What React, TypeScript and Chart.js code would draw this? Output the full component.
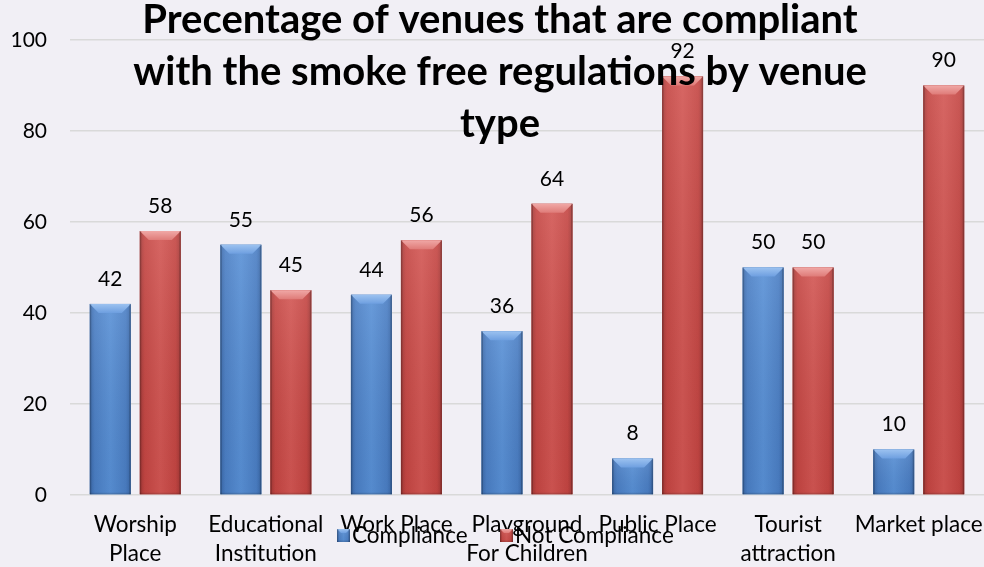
import React, { useEffect, useRef } from 'react';
import { Chart, registerables } from 'chart.js';

Chart.register(...registerables);

const categories: (string | string[])[] = [
  ['Worship', 'Place'],
  ['Educational', 'Institution'],
  'Work Place',
  ['Playground', 'For Children'],
  'Public Place',
  ['Tourist', 'attraction'],
  'Market place',
];
const compliance = [42, 55, 44, 36, 8, 50, 10];
const notCompliance = [58, 45, 56, 64, 92, 50, 90];
const seriesNames = ['Compliance', 'Not Compliance'];
const yMin = 0;
const yMax = 100;
const yStep = 20;
const titleLines = [
  'Precentage of venues that are compliant',
  'with the smoke free regulations by venue',
  'type',
];

const BG = '#F1EFF5';
const FONT = 'Lato, "Open Sans", sans-serif';

const palettes = [
  { base: '#4F81BD', edge: '#3A68A8', mid: '#4A7EC4', center: '#5890D6', bevelTop: '#9CC2F0', bevel: '#6E9FE0' },
  { base: '#C0504D', edge: '#A23836', mid: '#C44542', center: '#D25552', bevelTop: '#F0A8A6', bevel: '#DF7B78' },
];

function drawBevelBar(ctx: CanvasRenderingContext2D, left: number, top: number, right: number, bottom: number, p: any, bevelSize: number) {
  const w = right - left;
  const h = bottom - top;
  if (h <= 0 || w <= 0) return;
  const g = ctx.createLinearGradient(left, 0, right, 0);
  g.addColorStop(0, p.edge);
  g.addColorStop(0.12, p.mid);
  g.addColorStop(0.5, p.center);
  g.addColorStop(0.88, p.mid);
  g.addColorStop(1, p.edge);
  ctx.fillStyle = g;
  ctx.fillRect(left, top, w, h);
  const v = ctx.createLinearGradient(0, top, 0, bottom);
  v.addColorStop(0, 'rgba(255,255,255,0.10)');
  v.addColorStop(1, 'rgba(0,0,0,0.04)');
  ctx.fillStyle = v;
  ctx.fillRect(left, top, w, h);
  const b = Math.min(bevelSize, h / 2, w / 2);
  const tg = ctx.createLinearGradient(0, top, 0, top + b);
  tg.addColorStop(0, p.bevelTop);
  tg.addColorStop(1, p.bevel);
  ctx.beginPath();
  ctx.moveTo(left, top);
  ctx.lineTo(right, top);
  ctx.lineTo(right - b, top + b);
  ctx.lineTo(left + b, top + b);
  ctx.closePath();
  ctx.fillStyle = tg;
  ctx.fill();
  ctx.fillStyle = 'rgba(0,0,0,0.18)';
  ctx.fillRect(left, top, 1.5, h);
  ctx.fillRect(right - 1.5, top, 1.5, h);
  ctx.fillStyle = 'rgba(0,0,0,0.12)';
  ctx.fillRect(left, bottom - 1.5, w, 1.5);
}

const bgPlugin = {
  id: 'bg',
  beforeDraw(chart: any) {
    const ctx = chart.ctx;
    ctx.save();
    ctx.fillStyle = BG;
    ctx.fillRect(0, 0, chart.width, chart.height);
    ctx.restore();
  },
};

const barStylePlugin = {
  id: 'barStyle',
  afterDatasetsDraw(chart: any) {
    const ctx = chart.ctx;
    ctx.save();
    chart.data.datasets.forEach((ds: any, di: number) => {
      const meta = chart.getDatasetMeta(di);
      meta.data.forEach((el: any, i: number) => {
        const { x, y, base, width } = el.getProps(['x', 'y', 'base', 'width'], true);
        drawBevelBar(ctx, x - width / 2, y, x + width / 2, base, palettes[di], 9);
        ctx.fillStyle = '#000';
        ctx.font = `21px ${FONT}`;
        ctx.textAlign = 'center';
        ctx.textBaseline = 'middle';
        ctx.fillText(String(ds.data[i]), x, y - 25);
      });
    });
    ctx.restore();
  },
};

const overlayPlugin = {
  id: 'overlay',
  afterDraw(chart: any) {
    const ctx = chart.ctx;
    ctx.save();
    // title
    ctx.fillStyle = '#000';
    ctx.font = `bold 40px ${FONT}`;
    ctx.textAlign = 'center';
    ctx.textBaseline = 'alphabetic';
    titleLines.forEach((line, i) => {
      ctx.fillText(line, 500, 33 + i * 52);
    });
    // legend
    const legendX = [337, 500];
    ctx.font = `22.5px ${FONT}`;
    ctx.textAlign = 'left';
    seriesNames.forEach((name, i) => {
      drawBevelBar(ctx, legendX[i], 529, legendX[i] + 13, 542, palettes[i], 4);
      ctx.fillStyle = '#000';
      ctx.fillText(name, legendX[i] + 15, 543);
    });
    ctx.restore();
  },
};

export default function App() {
  const ref = useRef<HTMLCanvasElement | null>(null);
  useEffect(() => {
    if (!ref.current) return;
    const chart = new Chart(ref.current, {
      type: 'bar',
      data: {
        labels: categories as any,
        datasets: [
          { label: seriesNames[0], data: compliance, backgroundColor: palettes[0].base, borderWidth: 0, categoryPercentage: 0.766, barPercentage: 0.82 },
          { label: seriesNames[1], data: notCompliance, backgroundColor: palettes[1].base, borderWidth: 0, categoryPercentage: 0.766, barPercentage: 0.82 },
        ],
      },
      options: {
        responsive: false,
        animation: false,
        layout: { padding: { top: 40, right: 0, left: 0, bottom: 0 } },
        plugins: {
          legend: { display: false },
          title: { display: false },
          tooltip: { enabled: false },
        },
        scales: {
          x: {
            grid: { display: false },
            border: { display: false },
            ticks: {
              color: '#000',
              font: { family: FONT, size: 22.5, lineHeight: 1.31 },
              padding: 7,
              maxRotation: 0,
              autoSkip: false,
            },
            afterFit: (s: any) => { s.height = 72; s.paddingLeft = 0; s.paddingRight = 0; },
          },
          y: {
            min: yMin,
            max: yMax,
            grid: { color: '#D9D9D9', lineWidth: 1.5, drawTicks: false },
            border: { display: false },
            ticks: {
              stepSize: yStep,
              color: '#000',
              font: { family: FONT, size: 21 },
              padding: 23,
            },
            afterFit: (s: any) => { s.width = 70; s.paddingTop = 0; s.paddingBottom = 0; },
          },
        },
      },
      plugins: [bgPlugin, barStylePlugin, overlayPlugin],
    });
    return () => chart.destroy();
  }, []);
  return (
    <canvas
      ref={ref}
      width={984}
      height={567}
      style={{ position: 'absolute', left: 0, top: 0, width: 984, height: 567 }}
    />
  );
}
